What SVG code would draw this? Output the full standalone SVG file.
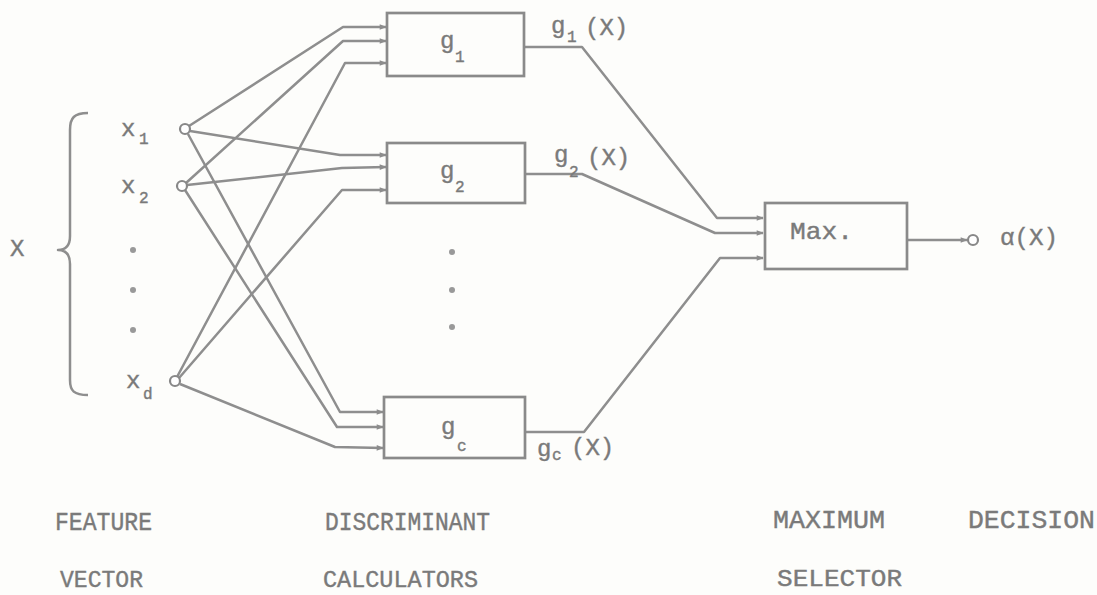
<svg xmlns="http://www.w3.org/2000/svg" width="1097" height="595" viewBox="0 0 1097 595">
<defs>
<style>
.ln{fill:none;stroke:#8e8e8e;stroke-width:2.5;stroke-linejoin:round}
.bx{fill:none;stroke:#8a8a8a;stroke-width:2.7}
.t{font-family:"Liberation Mono","DejaVu Sans Mono",monospace;fill:#7a7a7a;font-size:24px;stroke:#7a7a7a;stroke-width:0.4}
.s{font-size:16px}
.b{font-size:25px}
.c{font-size:24px}
.nd{fill:#fff;stroke:#888;stroke-width:2.2}
.dot{fill:#999}
</style>
<marker id="ah" viewBox="0 0 10 10" refX="9" refY="5" markerWidth="9" markerHeight="7" markerUnits="userSpaceOnUse" orient="auto">
<path d="M0,1 L10,5 L0,9 z" fill="#8c8c8c"/>
</marker>
</defs>
<rect width="1097" height="595" fill="#fdfdfb"/>

<g id="connectors">
<!-- from x1 -->
<path class="ln" marker-end="url(#ah)" d="M189,126 L343,27 L386,27"/>
<path class="ln" marker-end="url(#ah)" d="M190,131 L340,155 L386,155"/>
<path class="ln" marker-end="url(#ah)" d="M188,134 L340,412 L383,412"/>
<!-- from x2 -->
<path class="ln" marker-end="url(#ah)" d="M186,183 L343,41 L386,41"/>
<path class="ln" marker-end="url(#ah)" d="M187,185 L342,168 L386,167"/>
<path class="ln" marker-end="url(#ah)" d="M185,190 L337,427 L383,427"/>
<!-- from xd -->
<path class="ln" marker-end="url(#ah)" d="M177,377 L345,63 L386,63"/>
<path class="ln" marker-end="url(#ah)" d="M179,378 L342,190 L386,190"/>
<path class="ln" marker-end="url(#ah)" d="M180,384 L335,447 L383,448"/>
<!-- outputs -->
<path class="ln" marker-end="url(#ah)" d="M525,47 L582,47 L717,218 L763,218"/>
<path class="ln" marker-end="url(#ah)" d="M525,174 L582,174 L715,233 L763,233"/>
<path class="ln" marker-end="url(#ah)" d="M525,432 L584,432 L720,258 L763,258"/>
<path class="ln" marker-end="url(#ah)" d="M907,240 L967,240"/>
</g>

<g id="brace">
<path class="ln" d="M88,113 C74,113 70,118 70,130 L70,236 C70,245 66,250 58,250 C66,250 70,255 70,264 L70,380 C70,391 74,395 88,395"/>
<text class="t" x="10" y="256">X</text>
</g>

<g id="node-x1">
<circle class="nd" cx="185" cy="129" r="5"/>
<text class="t" x="121" y="136">x</text><text class="t s" x="139" y="144">1</text>
</g>
<g id="node-x2">
<circle class="nd" cx="182" cy="186" r="5"/>
<text class="t" x="121" y="193">x</text><text class="t s" x="139" y="203">2</text>
</g>
<g id="input-dots">
<circle class="dot" cx="133" cy="250" r="3"/>
<circle class="dot" cx="133" cy="290" r="3"/>
<circle class="dot" cx="133" cy="330" r="3"/>
</g>
<g id="node-xd">
<circle class="nd" cx="175" cy="381" r="5"/>
<text class="t" x="126" y="388">x</text><text class="t s" x="143" y="399">d</text>
</g>

<g id="node-g1">
<rect class="bx" x="387" y="13" width="137" height="63"/>
<text class="t" x="440" y="48">g</text><text class="t s" x="455" y="62">1</text>
<text class="t" x="551" y="33">g</text><text class="t s" x="567" y="42">1</text><text class="t" x="585" y="35">(X)</text>
</g>
<g id="node-g2">
<rect class="bx" x="387" y="143" width="138" height="60"/>
<text class="t" x="440" y="178">g</text><text class="t s" x="455" y="192">2</text>
<text class="t" x="554" y="162">g</text><text class="t s" x="569" y="177">2</text><text class="t" x="587" y="165">(X)</text>
</g>
<g id="g-dots">
<circle class="dot" cx="452" cy="252" r="3"/>
<circle class="dot" cx="452" cy="290" r="3"/>
<circle class="dot" cx="452" cy="327" r="3"/>
</g>
<g id="node-gc">
<rect class="bx" x="384" y="397" width="141" height="61"/>
<text class="t" x="441" y="434">g</text><text class="t s" x="457" y="451">c</text>
<text class="t" x="537" y="456">g</text><text class="t s" x="552" y="460">c</text><text class="t" x="571" y="455">(X)</text>
</g>

<g id="node-max">
<rect class="bx" x="765" y="203" width="142" height="66"/>
<text class="t" x="790" y="239" textLength="63" lengthAdjust="spacingAndGlyphs">Max.</text>
</g>
<g id="node-out">
<circle class="nd" cx="973" cy="240" r="5"/>
<text class="t" x="1000" y="245" textLength="58" lengthAdjust="spacingAndGlyphs">α(X)</text>
</g>

<g id="captions">
<text class="t b" x="55" y="530" textLength="97" lengthAdjust="spacingAndGlyphs">FEATURE</text>
<text class="t c" x="60" y="587" textLength="83" lengthAdjust="spacingAndGlyphs">VECTOR</text>
<text class="t b" x="325" y="530" textLength="165" lengthAdjust="spacingAndGlyphs">DISCRIMINANT</text>
<text class="t c" x="323" y="587" textLength="155" lengthAdjust="spacingAndGlyphs">CALCULATORS</text>
<text class="t b" x="773" y="528" textLength="112" lengthAdjust="spacingAndGlyphs">MAXIMUM</text>
<text class="t c" x="777" y="586" textLength="125" lengthAdjust="spacingAndGlyphs">SELECTOR</text>
<text class="t b" x="968" y="528" textLength="127" lengthAdjust="spacingAndGlyphs">DECISION</text>
</g>
</svg>
